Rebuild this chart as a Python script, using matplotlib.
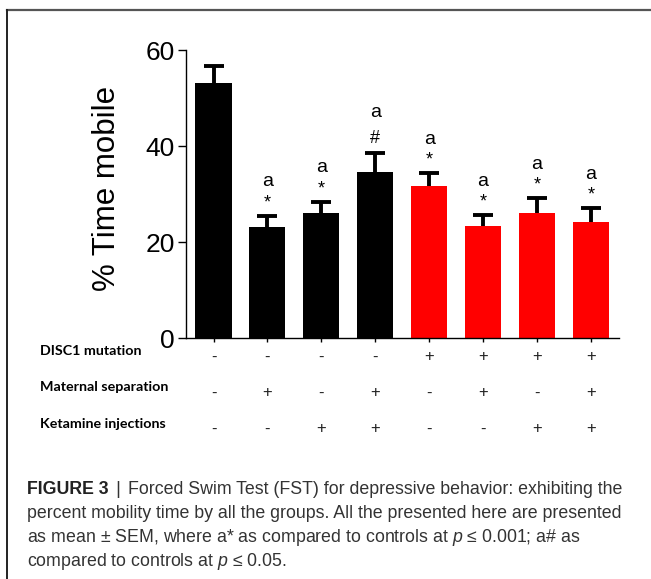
import matplotlib
matplotlib.use("Agg")
import matplotlib.pyplot as plt
from matplotlib import transforms
from matplotlib.lines import Line2D

plt.rcParams['font.family'] = ['Liberation Sans', 'DejaVu Sans']
plt.rcParams['mathtext.fontset'] = 'custom'
plt.rcParams['mathtext.rm'] = 'Liberation Sans'
plt.rcParams['mathtext.it'] = 'Liberation Sans:italic'

# data
groups = ['G1', 'G2', 'G3', 'G4', 'G5', 'G6', 'G7', 'G8']
means = [53.1, 23.2, 26.1, 34.5, 31.7, 23.3, 26.0, 24.1]
sem = [3.5, 2.3, 2.3, 4.0, 2.6, 2.3, 3.1, 2.9]
bar_colors = ['black'] * 4 + ['#ff0000'] * 4
marks = ['', '*', '*', '#', '*', '*', '*', '*']
letters = ['', 'a', 'a', 'a', 'a', 'a', 'a', 'a']
yticks = [0, 20, 40, 60]

row_labels = ['DISC1 mutation', 'Maternal separation', 'Ketamine injections']
disc1 = ['-', '-', '-', '-', '+', '+', '+', '+']
maternal = ['-', '+', '-', '+', '-', '+', '-', '+']
ketamine = ['-', '-', '+', '+', '-', '-', '+', '+']

caption_head = 'FIGURE 3'
caption_lines = [
    'Forced Swim Test (FST) for depressive behavior: exhibiting the',
    'percent mobility time by all the groups. All the presented here are presented',
    'as mean \u00b1 SEM, where a* as compared to controls at $p$ \u2264 0.001; a# as',
    'compared to controls at $p$ \u2264 0.05.',
]

W, H = 651, 579
fig = plt.figure(figsize=(W / 100, H / 100), dpi=100)


def fx(x):
    return x / W


def fy(y):
    return 1 - y / H


ax = fig.add_axes([fx(186), fy(338), fx(619) - fx(186), fy(50) - fy(338)])
x = list(range(len(groups)))
ax.bar(x, means, width=0.67, color=bar_colors, zorder=2)
eb = ax.errorbar(x, means, yerr=[[0] * len(sem), sem], fmt='none', ecolor='black',
                 elinewidth=2.8, capsize=7.5, capthick=2.8, zorder=3)
# only the upper half of the error bar is drawn
eb[1][0].set_visible(False)

for i in x:
    top = means[i] + sem[i]
    if marks[i]:
        off = 3.1 if marks[i] == '#' else 2.7
        ax.text(i, top + off, marks[i], ha='center', va='center', fontsize=13)
        ax.text(i, top + off + (5.3 if marks[i] == '#' else 4.4), letters[i],
                ha='center', va='center', fontsize=14)

ax.set_xlim(-0.51, 7.52)
ax.set_ylim(0, 60)
ax.set_yticks(yticks)
ax.set_yticklabels([str(t) for t in yticks], fontsize=19)
ax.set_xticks(x)
ax.set_xticklabels([])
ax.tick_params(axis='y', length=6, width=1.0, pad=2)
ax.tick_params(axis='x', length=3, width=1.0)
for s in ['top', 'right']:
    ax.spines[s].set_visible(False)
for s in ['left', 'bottom']:
    ax.spines[s].set_linewidth(1.0)
ax.set_ylabel('% Time mobile', fontsize=22.5)
ax.yaxis.set_label_coords((122 - 186) / (619 - 186), 0.52)

# treatment table under the bars
trans = transforms.blended_transform_factory(ax.transData, fig.transFigure)
label_y = [351, 387, 424]
sign_y = [357, 393, 429]
for r, (lab, signs) in enumerate(zip(row_labels, [disc1, maternal, ketamine])):
    fig.text(fx(40), fy(label_y[r]), lab, ha='left', va='center',
             fontsize=10.3, fontweight='bold', family=['Lato', 'DejaVu Sans'])
    for i, s in enumerate(signs):
        ax.text(i, fy(sign_y[r]), s, transform=trans, ha='center', va='center',
                fontsize=12, color='#222222')

# caption
renderer = fig.canvas.get_renderer()
cap_size = 12.8
cap_y = 490
head = fig.text(fx(27), fy(cap_y), caption_head, ha='left', va='center',
                fontsize=cap_size, fontweight='bold', color='#222222')
bb = head.get_window_extent(renderer)
bar_t = fig.text((bb.x1 + 7) / W, fy(cap_y - 1), '|', ha='left', va='center',
                 fontsize=cap_size + 1, color='#333333')
bb2 = bar_t.get_window_extent(renderer)
fig.text((bb2.x1 + 7) / W, fy(cap_y), caption_lines[0], ha='left', va='center',
         fontsize=cap_size, color='#333333')
for k, line in enumerate(caption_lines[1:], start=1):
    fig.text(fx(27), fy(cap_y + 24 * k), line, ha='left', va='center',
             fontsize=cap_size, color='#333333')

# outer frame
fig.add_artist(Line2D([fx(7), 1.0], [fy(10), fy(10)], color='#555555', lw=1.6))
fig.add_artist(Line2D([fx(7), fx(7)], [fy(10), 0], color='#222222', lw=1.4))

fig.savefig('out.png', dpi=100)
